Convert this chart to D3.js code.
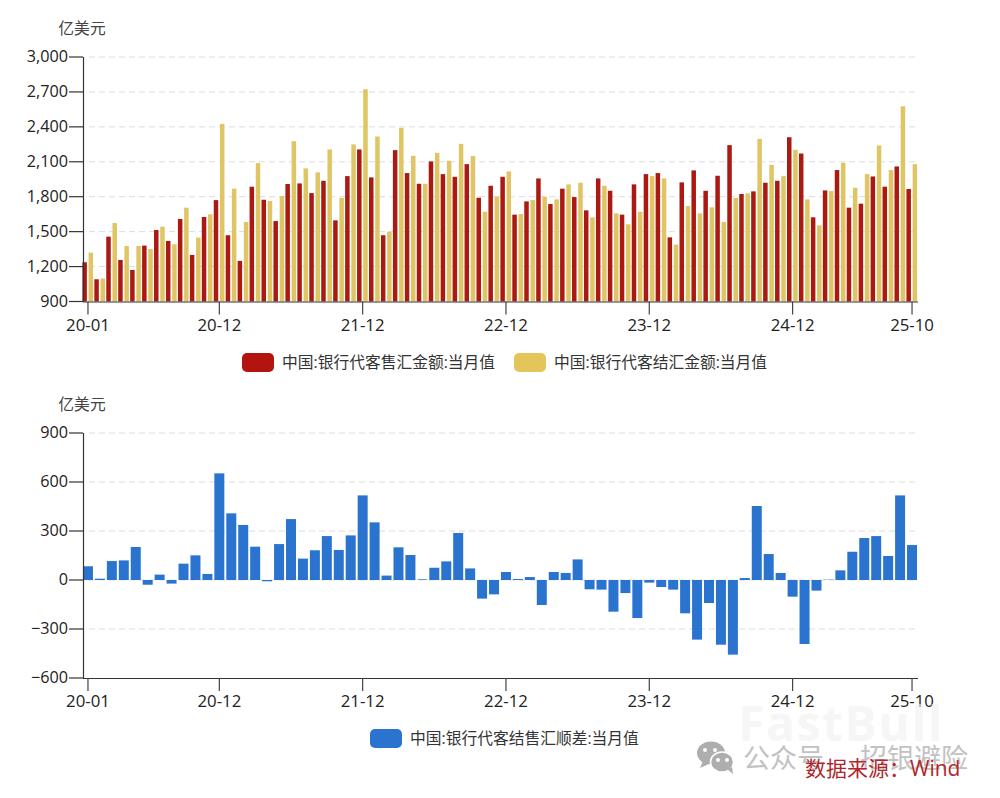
<!DOCTYPE html>
<html><head><meta charset="utf-8">
<script src="https://cdn.jsdelivr.net/npm/d3@7/dist/d3.min.js"></script>
<style>html,body{margin:0;padding:0;background:#fff}svg{display:block}
text{font-family:"Open Sans","Noto Sans CJK SC",sans-serif}</style></head>
<body><svg id="c" width="1000" height="798"></svg>
<script>
const monthYears=[20,21,22,23,24,25];
const months=monthYears.flatMap(y=>d3.range(1,13).map(m=>y+"-"+String(m).padStart(2,"0"))).slice(0,70);
const tickLabels=["20-01","20-12","21-12","22-12","23-12","24-12","25-10"];
const sellName="中国:银行代客售汇金额:当月值";
const buyName="中国:银行代客结汇金额:当月值";
const netName="中国:银行代客结售汇顺差:当月值";
const sell=[1237,1091,1457,1257,1171,1380,1514,1420,1609,1300,1626,1771,1469,1249,1886,1774,1591,1909,1914,1831,1937,1597,1977,2206,1966,1469,2200,2003,1911,2103,1994,1971,2080,1791,1894,1971,1646,1760,1957,1737,1869,1797,1683,1957,1851,1646,1906,1994,2003,1451,1923,2026,1851,1980,2243,1823,1846,1920,1937,2311,2171,1623,1854,2029,1706,1740,1974,1886,2060,1866];
const buy=[1320,1097,1574,1377,1377,1351,1543,1391,1706,1449,1649,2426,1869,1583,2089,1763,1806,2277,2043,2009,2206,1789,2249,2723,2317,1500,2391,2151,1911,2177,2109,2254,2149,1671,1803,2017,1651,1771,1800,1777,1906,1920,1623,1894,1657,1563,1671,1977,1957,1389,1720,1657,1709,1583,1789,1829,2297,2074,1977,2203,1777,1554,1849,2091,1877,1994,2240,2029,2577,2080];
const net=[84,8,116,120,202,-29,33,-22,100,151,37,653,408,337,204,-8,220,373,131,182,269,184,273,518,353,27,200,153,4,75,114,288,71,-114,-88,49,6,18,-153,49,43,126,-57,-59,-194,-80,-233,-16,-43,-59,-204,-365,-141,-396,-457,12,453,159,43,-102,-392,-65,2,59,173,257,269,147,518,214];
const yTop=[900,1200,1500,1800,2100,2400,2700,3000];
const yBottom=[-600,-300,0,300,600,900];
const colSell="#ab1a12",colBuy="#e0c564",colNet="#2a74d0";
const legSell="#b3140f",legBuy="#e3c559";
const axisCol="#333",txt="#222";
const svg=d3.select("#c");
const x=d3.scaleBand().domain(months).range([82,918]);
const fmt=d3.format(",");

function frame(y,ticks,x0,unitY){
  const g=svg.append("g");
  g.selectAll("line.g").data(ticks).join("line").attr("class","g")
   .attr("x1",x0+6).attr("x2",918).attr("y1",d=>y(d)).attr("y2",d=>y(d))
   .attr("stroke",d=>d===ticks[0]?"none":"#dcdcdc").attr("stroke-dasharray","6 4").attr("stroke-width",1);
  g.append("text").attr("x",82).attr("y",unitY).attr("text-anchor","middle")
   .attr("font-size",15.8).attr("fill","#444").text("亿美元");
}
function axes(y,ticks,base){
  const left=svg.append("g").attr("transform","translate(83,-0.5)")
    .call(d3.axisLeft(y).tickValues(ticks).tickFormat(fmt).tickSize(14).tickPadding(1).tickSizeOuter(0));
  left.select(".domain").attr("stroke",axisCol).attr("stroke-width",1.2);
  left.selectAll("line").attr("stroke",axisCol).attr("stroke-width",1.2);
  left.selectAll("text").attr("font-size",16.2).attr("fill",txt).style("font-family","'Open Sans'");
  const bottom=svg.append("g").attr("transform",`translate(0,${base})`)
    .call(d3.axisBottom(x).tickValues(tickLabels).tickSize(13).tickPadding(4.5).tickSizeOuter(0));
  bottom.select(".domain").attr("stroke",axisCol).attr("stroke-width",1.2).attr("d",`M83,0.5H918`);
  bottom.selectAll("line").attr("stroke","#444").attr("stroke-width",1.2);
  bottom.selectAll("text").attr("font-size",16.8).attr("fill",txt).style("font-family","'Open Sans'");
}
function legend(items,y0){
  items.forEach(it=>{
    svg.append("rect").attr("x",it.x).attr("y",y0).attr("width",32).attr("height",19).attr("rx",5).attr("fill",it.c);
    svg.append("text").attr("x",it.x+40).attr("y",y0+14.5).attr("font-size",15.75).attr("fill","#333").text(it.t);
  });
}

/* top chart */
const y1=d3.scaleLinear().domain([900,3000]).range([301.5,57]);
frame(y1,yTop,83,34);
const bw=4.5;
svg.append("g").selectAll("rect").data(months).join("rect")
  .attr("x",m=>x(m)+x.bandwidth()/2-1.1-bw).attr("width",bw)
  .attr("y",(m,i)=>y1(sell[i])).attr("height",(m,i)=>y1(900)-y1(sell[i])).attr("fill",colSell);
svg.append("g").selectAll("rect").data(months).join("rect")
  .attr("x",m=>x(m)+x.bandwidth()/2+.6).attr("width",bw)
  .attr("y",(m,i)=>y1(buy[i])).attr("height",(m,i)=>y1(900)-y1(buy[i])).attr("fill",colBuy);
axes(y1,yTop,301.5);
legend([{x:242,c:legSell,t:sellName},{x:514,c:legBuy,t:buyName}],353);

/* bottom chart */
const y2=d3.scaleLinear().domain([-600,900]).range([678,433]);
frame(y2,yBottom,83,410);
const nw=10;
svg.append("g").selectAll("rect").data(months).join("rect")
  .attr("x",m=>x(m)+x.bandwidth()/2-nw/2).attr("width",nw)
  .attr("y",(m,i)=>y2(Math.max(0,net[i]))).attr("height",(m,i)=>Math.abs(y2(net[i])-y2(0))).attr("fill",colNet);
axes(y2,yBottom,678);
legend([{x:370,c:colNet,t:netName}],729);

/* watermark and source */
svg.append("text").attr("x",738).attr("y",741).attr("font-size",48).attr("font-weight",700)
  .attr("letter-spacing",1.6).attr("fill","#f0f0f0").attr("fill-opacity",.6).text("FastBull").style("font-family","'Open Sans'");
const wx=svg.append("g").attr("fill","#aeaeae");
wx.append("ellipse").attr("cx",711).attr("cy",753).attr("rx",14).attr("ry",11.5);
wx.append("path").attr("d","M703 761l-3 7 9-4z");
wx.append("ellipse").attr("cx",722).attr("cy",762).attr("rx",11.5).attr("ry",10).attr("stroke","#fff").attr("stroke-width",1.5);
wx.append("path").attr("d","M727 769l6 5-1-7z");
svg.append("g").attr("fill","#fff").selectAll("circle").data([[705,750],[715,750],[718,760],[727,760]]).join("circle")
  .attr("cx",d=>d[0]).attr("cy",d=>d[1]).attr("r",2);
svg.append("text").attr("x",743).attr("y",768).attr("font-size",27).attr("fill","#c2c2c2").text("公众号");
svg.append("text").attr("x",860).attr("y",768).attr("font-size",27).attr("fill","#c2c2c2").text("招银避险");
svg.append("text").attr("x",805).attr("y",776).attr("font-size",21).attr("fill","#b0272c").text("数据来源：Wind");
</script></body></html>
